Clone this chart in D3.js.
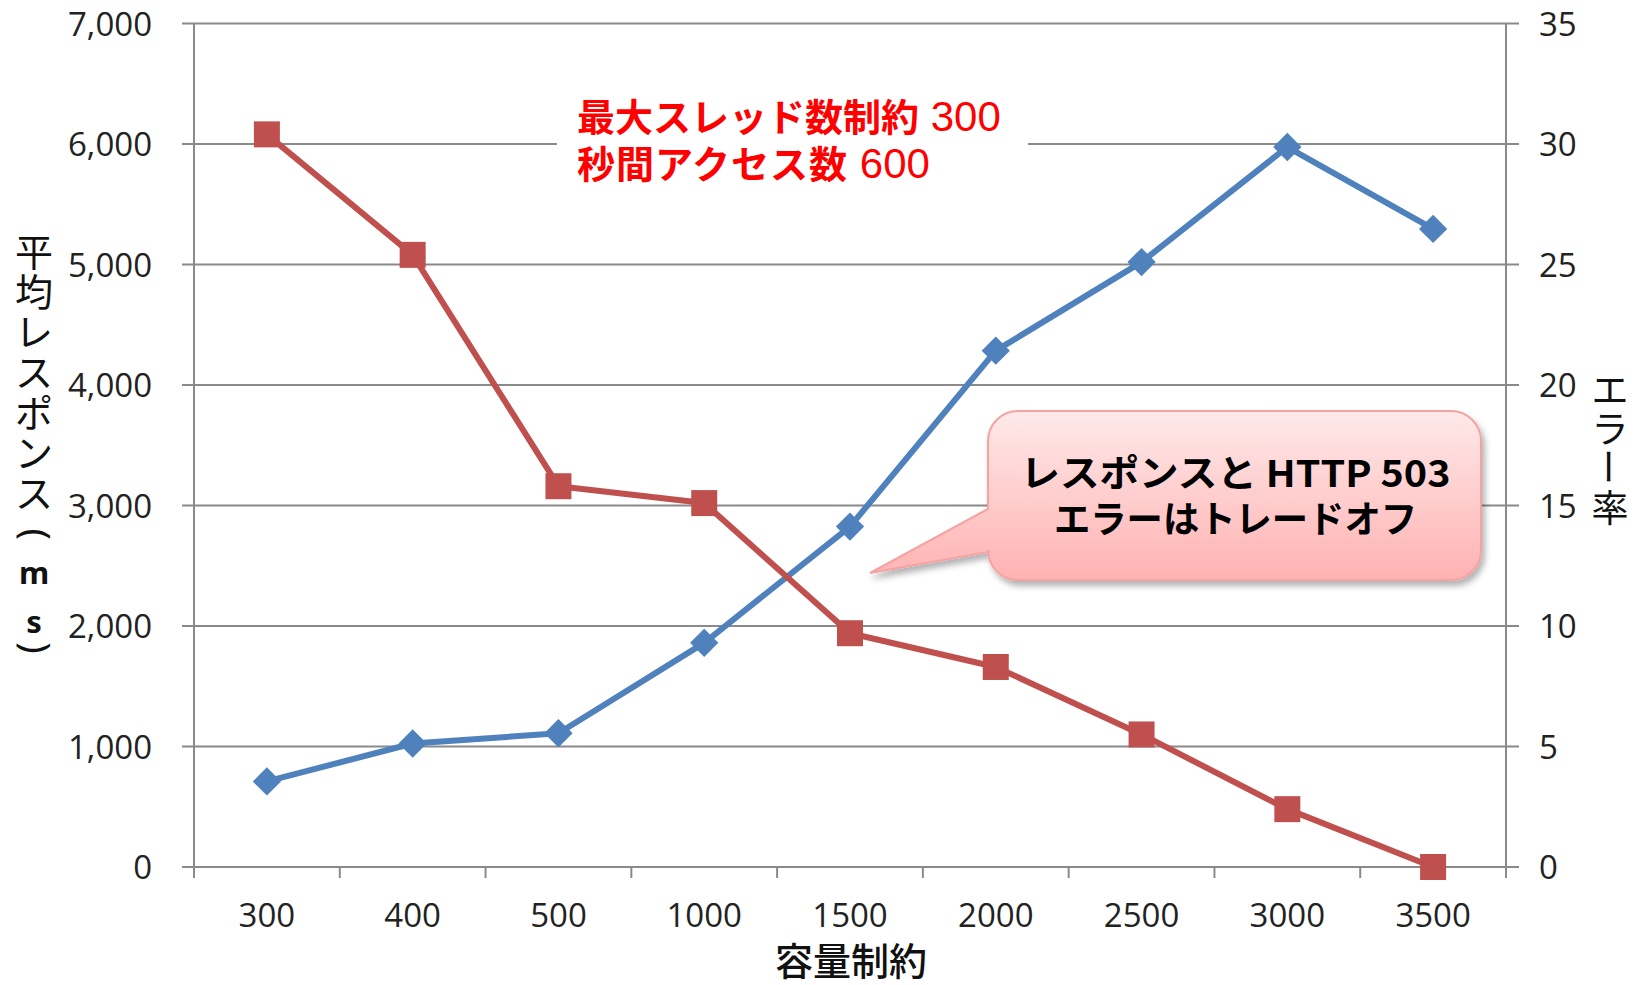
<!DOCTYPE html>
<html><head><meta charset="utf-8">
<script src="https://cdn.jsdelivr.net/npm/d3@7"></script>
<style>html,body{margin:0;padding:0;background:#fff;}svg{display:block;}</style>
</head><body>
<svg id="chart" width="1636" height="985"></svg>
<script>
// ---- data ----
const categories = ["300","400","500","1000","1500","2000","2500","3000","3500"];
const responseMs = [710, 1025, 1110, 1860, 2825, 4285, 5020, 5975, 5295];
const errorRate  = [30.4, 25.4, 15.8, 15.1, 9.7, 8.3, 5.5, 2.4, 0];
const leftTicks  = [0, 1000, 2000, 3000, 4000, 5000, 6000, 7000];
const rightTicks = [0, 5, 10, 15, 20, 25, 30, 35];
const xTitle = "容量制約";
const leftTitle = ["平","均","レ","ス","ポ","ン","ス","(","m","s",")"];
const rightTitle = ["エ","ラ","ー","率"];
const noteLines = [["最大スレッド数制約", " 300"], ["秒間アクセス数", " 600"]];
const calloutLines = ["レスポンスと HTTP 503", "エラーはトレードオフ"];

// ---- layout ----
const L = 194, R = 1506, T = 23.5, B = 867;
const svg = d3.select("#chart");
const tickFont = "'Open Sans', 'Noto Sans', sans-serif";
const cjkFont = "'Noto Sans CJK JP', sans-serif";
const gridColor = "#8a8a8a";
const blue = "#4f81bd", red = "#c0504d";

const x = d3.scaleBand().domain(categories).range([L, R]);
const yL = d3.scaleLinear().domain([0, 7000]).range([B, T]);
const yR = d3.scaleLinear().domain([0, 35]).range([B, T]);

const defs = svg.append("defs");
const grad = defs.append("linearGradient").attr("id","cg").attr("x1",0).attr("y1",0).attr("x2",0).attr("y2",1);
grad.append("stop").attr("offset","0%").attr("stop-color","#ffe9e9");
grad.append("stop").attr("offset","100%").attr("stop-color","#ffb2b2");
const f = defs.append("filter").attr("id","sh").attr("x","-10%").attr("y","-10%").attr("width","130%").attr("height","140%");
f.append("feDropShadow").attr("dx",3).attr("dy",5).attr("stdDeviation",3).attr("flood-color","#000").attr("flood-opacity",0.3);

// gridlines
svg.append("g").selectAll("line").data(leftTicks).join("line")
  .attr("x1", L - 12).attr("x2", R + 13)
  .attr("y1", d => yL(d)).attr("y2", d => yL(d))
  .attr("stroke", gridColor).attr("stroke-width", 2);

// axis lines
svg.append("line").attr("x1", L).attr("x2", L).attr("y1", T).attr("y2", B + 11)
  .attr("stroke", gridColor).attr("stroke-width", 2);
svg.append("line").attr("x1", R).attr("x2", R).attr("y1", T).attr("y2", B + 11)
  .attr("stroke", gridColor).attr("stroke-width", 2);
// category boundary ticks
const bounds = categories.map(c => x(c)).concat([x.range()[1]]);
svg.append("g").selectAll("line").data(bounds).join("line")
  .attr("x1", d => d).attr("x2", d => d).attr("y1", B).attr("y2", B + 11)
  .attr("stroke", gridColor).attr("stroke-width", 2);

// left axis labels
const gl = svg.append("g").attr("transform", `translate(${L},0)`)
  .call(d3.axisLeft(yL).tickValues(leftTicks).tickFormat(d3.format(",")).tickSize(0).tickPadding(42));
gl.select(".domain").remove();
gl.selectAll("text").attr("font-family", tickFont).attr("font-size", 33).attr("fill", "#222").attr("dy", "0.36em");

// right axis labels
const gr = svg.append("g").attr("transform", `translate(${R},0)`)
  .call(d3.axisRight(yR).tickValues(rightTicks).tickSize(0).tickPadding(33));
gr.select(".domain").remove();
gr.selectAll("text").attr("font-family", tickFont).attr("font-size", 33).attr("fill", "#222").attr("dy", "0.36em");

// bottom labels
const gb = svg.append("g").attr("transform", `translate(0,${B})`)
  .call(d3.axisBottom(x).tickSize(0).tickPadding(0));
gb.select(".domain").remove();
gb.selectAll("text").attr("font-family", tickFont).attr("font-size", 33).attr("fill", "#222")
  .attr("dy", null).attr("y", 60);

// x title
svg.append("text").attr("x", (L + R) / 2 + 1).attr("y", 975).attr("text-anchor", "middle")
  .attr("font-family", cjkFont).attr("font-size", 38).attr("font-weight", 500).attr("fill", "#111")
  .text(xTitle);

// left title (stacked vertically; each glyph cell centred on its slot)
const isLatin = d => /[a-z]/.test(d);
const isParen = d => d === "(" || d === ")";
const adj = { "(": 3, "m": 1, "s": 9, ")": -4 };
const slotY = (d, i) => 249 + i * 40.3 + (adj[d] || 0);
const lt = svg.append("g").selectAll("g").data(leftTitle).join("g")
  .attr("transform", (d, i) => isParen(d)
    ? `translate(38,${slotY(d, i)}) rotate(90)`
    : `translate(34,${slotY(d, i)})`);
lt.append("text")
  .attr("font-family", d => (isLatin(d) || isParen(d)) ? "'Noto Sans', sans-serif" : cjkFont)
  .attr("font-weight", d => isLatin(d) ? 700 : 400)
  .attr("font-size", d => isLatin(d) ? 31 : 38)
  .attr("fill", "#111")
  .text(d => d)
  .each(function () {
    const bb = this.getBBox();
    d3.select(this).attr("x", -(bb.x + bb.width / 2)).attr("y", -(bb.y + bb.height / 2));
  });

// right title
svg.append("g").selectAll("text").data(rightTitle).join("text")
  .attr("x", 1610).attr("y", (d, i) => 388 + i * 39.3)
  .attr("text-anchor", "middle").attr("dominant-baseline", "central")
  .attr("font-family", cjkFont).attr("font-size", 37).attr("fill", "#111")
  .attr("transform", (d, i) => d === "ー" ? `rotate(90,1610,${388 + i * 39.3})` : null)
  .text(d => d);

// white box behind the note
svg.append("rect").attr("x", 557).attr("y", 92).attr("width", 471).attr("height", 100).attr("fill", "#fff");

// lines
const lineL = d3.line().x((d, i) => x(categories[i]) + x.bandwidth() / 2).y(d => yL(d));
const lineR = d3.line().x((d, i) => x(categories[i]) + x.bandwidth() / 2).y(d => yR(d));
svg.append("path").datum(responseMs).attr("d", lineL).attr("fill", "none")
  .attr("stroke", blue).attr("stroke-width", 6).attr("stroke-linejoin", "round");
svg.append("g").selectAll("path").data(responseMs).join("path")
  .attr("d", d3.symbol(d3.symbolSquare, 400))
  .attr("transform", (d, i) => `translate(${x(categories[i]) + x.bandwidth() / 2},${yL(d)}) rotate(45)`)
  .attr("fill", blue);

svg.append("path").datum(errorRate).attr("d", lineR).attr("fill", "none")
  .attr("stroke", red).attr("stroke-width", 6).attr("stroke-linejoin", "round");
svg.append("g").selectAll("path").data(errorRate).join("path")
  .attr("d", d3.symbol(d3.symbolSquare, 676))
  .attr("transform", (d, i) => `translate(${x(categories[i]) + x.bandwidth() / 2},${yR(d)})`)
  .attr("fill", red);

// note text
const note = svg.append("g");
noteLines.forEach((ln, i) => {
  const t = note.append("text").attr("x", 577).attr("y", 131 + i * 47).attr("fill", "#ff0000");
  t.append("tspan").attr("font-family", cjkFont).attr("font-weight", 700).attr("font-size", 38)
    .attr("letter-spacing", i === 1 ? 1 : 0).text(ln[0]);
  t.append("tspan").attr("font-family", "'Liberation Sans', Arial, sans-serif").attr("font-size", 42)
    .attr("letter-spacing", 0).text(ln[1]);
});

// callout
const cx0 = 988, cx1 = 1481, cy0 = 411, cy1 = 580, r = 30;
const tipX = 870, tipY = 573, pTop = 509, pBot = 552;
const p = d3.path();
p.moveTo(cx0 + r, cy0);
p.lineTo(cx1 - r, cy0);
p.arcTo(cx1, cy0, cx1, cy0 + r, r);
p.lineTo(cx1, cy1 - r);
p.arcTo(cx1, cy1, cx1 - r, cy1, r);
p.lineTo(cx0 + r, cy1);
p.arcTo(cx0, cy1, cx0, cy1 - r, r);
p.lineTo(cx0, pBot);
p.lineTo(tipX, tipY);
p.lineTo(cx0, pTop);
p.lineTo(cx0, cy0 + r);
p.arcTo(cx0, cy0, cx0 + r, cy0, r);
p.closePath();
svg.append("path").attr("d", p.toString()).attr("fill", "url(#cg)")
  .attr("stroke", "#f4a2a2").attr("stroke-width", 2).attr("filter", "url(#sh)");
const widths = [430, 363];
calloutLines.forEach((ln, i) => {
  svg.append("text").attr("x", (cx0 + cx1) / 2 + 1).attr("y", 487 + i * 46)
    .attr("text-anchor", "middle").attr("font-family", cjkFont).attr("font-weight", 700)
    .attr("font-size", 37).attr("fill", "#000")
    .attr("textLength", widths[i]).attr("lengthAdjust", "spacingAndGlyphs")
    .text(ln);
});
</script>
</body></html>
